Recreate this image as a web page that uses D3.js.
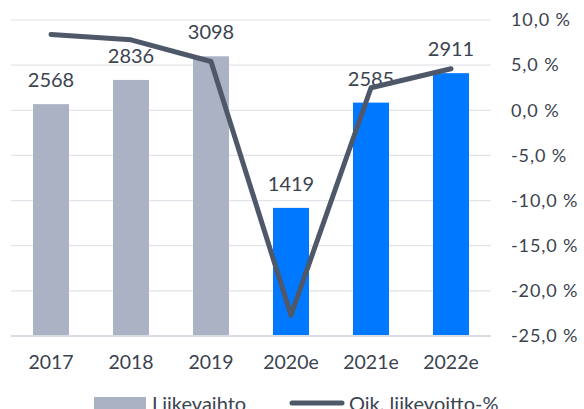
<!DOCTYPE html>
<html lang="fi">
<head>
  <meta charset="UTF-8">
  <title>Liikevaihto ja oik. liikevoitto-%</title>
  <script src="https://d3js.org/d3.v7.min.js"></script>
  <style>
    body {
      margin: 0;
      background: #fff;
      font-family: "Lato", "Open Sans", sans-serif;
    }
    svg text {
      fill: #3b4350;
    }
  </style>
</head>
<body>
  <svg id="chart" width="584" height="409"></svg>

  <script>
    const years = ["2017", "2018", "2019", "2020e", "2021e", "2022e"];
    const revenue = [2568, 2836, 3098, 1419, 2585, 2911];
    const margin = [8.4, 7.8, 5.4, -22.7, 2.5, 4.6];
    const estimate = [false, false, false, true, true, true];
    const pctTicks = [10, 5, 0, -5, -10, -15, -20, -25];

    const grey = "#abb2c4";
    const blue = "#0078ff";
    const lineCol = "#4f5869";

    const svg = d3.select("#chart");

    const plotL = 11, plotR = 491, plotT = 20, plotB = 336;

    const x = d3.scaleBand()
      .domain(years)
      .range([plotL, plotR])
      .paddingInner(0.55)
      .paddingOuter(0.275);

    const yBar = d3.scaleLinear().domain([0, 3500]).range([plotB, plotT]);
    const yPct = d3.scaleLinear().domain([-25, 10]).range([plotB, plotT]);

    // gridlines
    svg.append("g")
      .selectAll("line")
      .data(pctTicks.filter(d => d !== -25))
      .join("line")
      .attr("x1", plotL).attr("x2", plotR)
      .attr("y1", d => yPct(d)).attr("y2", d => yPct(d))
      .attr("stroke", "#e3e4ea")
      .attr("stroke-width", 1.2);

    // right axis labels
    const fmt = d => d3.format(".1f")(d).replace("−", "-").replace(".", ",") + " %";
    svg.append("g")
      .selectAll("text")
      .data(pctTicks)
      .join("text")
      .attr("x", 511)
      .attr("y", d => yPct(d))
      .attr("dy", "0.35em")
      .style("font-size", "18px")
      .style("letter-spacing", "0.9px")
      .text(fmt);

    // bars
    svg.append("g")
      .selectAll("rect")
      .data(years)
      .join("rect")
      .attr("x", d => x(d))
      .attr("width", x.bandwidth())
      .attr("y", (d, i) => yBar(revenue[i]))
      .attr("height", (d, i) => plotB - yBar(revenue[i]))
      .attr("fill", (d, i) => estimate[i] ? blue : grey);

    // baseline
    svg.append("line")
      .attr("x1", plotL).attr("x2", plotR)
      .attr("y1", plotB).attr("y2", plotB)
      .attr("stroke", "#d9dce3")
      .attr("stroke-width", 2);

    // bar value labels
    svg.append("g")
      .selectAll("text")
      .data(years)
      .join("text")
      .attr("x", d => x(d) + x.bandwidth() / 2)
      .attr("y", (d, i) => yBar(revenue[i]) - 17)
      .attr("text-anchor", "middle")
      .style("font-size", "20px")
      .text((d, i) => revenue[i]);

    // line
    const line = d3.line()
      .x((d, i) => x(years[i]) + x.bandwidth() / 2)
      .y(d => yPct(d));

    svg.append("path")
      .datum(margin)
      .attr("d", line)
      .attr("fill", "none")
      .attr("stroke", lineCol)
      .attr("stroke-width", 5)
      .attr("stroke-linecap", "round")
      .attr("stroke-linejoin", "round");

    // x axis labels
    svg.append("g")
      .selectAll("text")
      .data(years)
      .join("text")
      .attr("x", d => x(d) + x.bandwidth() / 2)
      .attr("y", 362)
      .attr("dy", "0.35em")
      .attr("text-anchor", "middle")
      .style("font-size", "19.5px")
      .text(d => d);

    // legend
    const leg = svg.append("g");
    leg.append("rect")
      .attr("x", 94).attr("y", 397)
      .attr("width", 52).attr("height", 13)
      .attr("fill", grey);
    leg.append("text")
      .attr("x", 152).attr("y", 404)
      .attr("dy", "0.35em")
      .style("font-size", "20px")
      .text("Liikevaihto");
    leg.append("line")
      .attr("x1", 292).attr("x2", 342)
      .attr("y1", 403).attr("y2", 403)
      .attr("stroke", lineCol)
      .attr("stroke-width", 5)
      .attr("stroke-linecap", "round");
    leg.append("text")
      .attr("x", 349).attr("y", 404)
      .attr("dy", "0.35em")
      .style("font-size", "20px")
      .text("Oik. liikevoitto-%");
  </script>
</body>
</html>
